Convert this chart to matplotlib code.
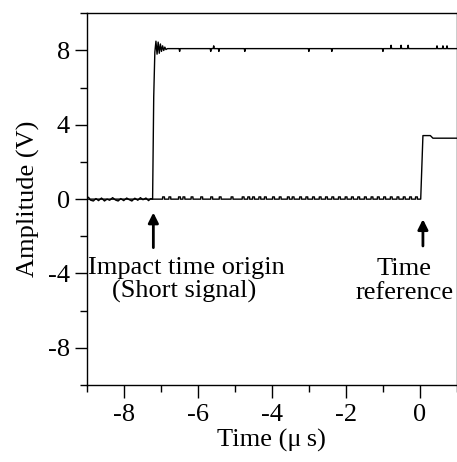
import matplotlib
matplotlib.use('Agg')
import matplotlib.pyplot as plt
from matplotlib.ticker import MultipleLocator

plt.rcParams['font.family'] = ['Liberation Serif', 'DejaVu Serif']
plt.rcParams['axes.unicode_minus'] = False

# short signal (impact time origin): noisy baseline, step at -7.2 us with ringing
short_t = [-9.0, -8.95, -8.9, -8.82, -8.75, -8.68, -8.6, -8.52, -8.45, -8.38, -8.3, -8.22,
           -8.15, -8.08, -8.0, -7.92, -7.85, -7.78, -7.7, -7.62, -7.55, -7.48, -7.4, -7.33,
           -7.27, -7.22, -7.19, -7.16, -7.13, -7.1, -7.07, -7.04, -7.01, -6.98, -6.95, -6.92,
           -6.89, -6.86, -6.82]
short_v = [0.05, 0.1, -0.05, -0.1, 0.03, -0.08, 0.06, -0.1, 0.0, -0.06, 0.08, -0.05,
           -0.1, 0.03, -0.08, 0.06, -0.03, -0.1, 0.05, -0.06, 0.08, -0.03, 0.06, -0.08,
           0.03, 0.0, 5.5, 7.9, 8.5, 7.8, 8.45, 7.85, 8.35, 7.95, 8.25, 8.0, 8.18, 8.05, 8.1]
short_level = 8.1
short_tail_end = 1.0
# small glitches on the 8 V plateau
glitch_t = [-6.49, -5.65, -5.57, -5.43, -4.73, -3.0, -2.38, -1.0, -0.78, -0.51, -0.32,
            0.46, 0.62, 0.73]
glitch_v = [7.95, 7.95, 8.25, 7.95, 7.95, 7.95, 7.95, 7.95, 8.28, 8.28, 8.28,
            8.25, 8.25, 8.25]

# time reference signal: flat baseline with small pulses, step at 0 us
ref_base = 0.0
ref_pulse_t = [-6.95, -6.78, -6.52, -6.4, -6.18, -5.92, -5.65, -5.42, -5.1, -4.8, -4.65,
               -4.52, -4.35, -4.2, -3.98, -3.8, -3.58, -3.45, -3.25, -3.08, -2.9, -2.72,
               -2.55, -2.38, -2.2, -2.02, -1.85, -1.68, -1.5, -1.32, -1.15, -0.98, -0.8,
               -0.62, -0.45, -0.28, -0.12]
ref_pulse_v = 0.12
ref_step_t = [0.02, 0.08, 0.28, 0.35, 1.0]
ref_step_v = [0.0, 3.42, 3.42, 3.28, 3.28]

# assemble line coordinates from the listed values
st = list(short_t)
sv = list(short_v)
for g, gv in zip(glitch_t, glitch_v):
    st += [g - 0.015, g, g + 0.015]
    sv += [short_level, gv, short_level]
st.append(short_tail_end)
sv.append(short_level)

rt = [-9.0]
rv = [ref_base]
for p in ref_pulse_t:
    rt += [p, p, p + 0.05, p + 0.05]
    rv += [ref_base, ref_pulse_v, ref_pulse_v, ref_base]
rt += ref_step_t
rv += ref_step_v

fig = plt.figure(figsize=(4.57, 4.62), dpi=100)
ax = fig.add_axes([0.1897, 0.1667, 0.8103, 0.8045])
ax.plot(st, sv, color='black', lw=1.0)
ax.plot(rt, rv, color='black', lw=1.0)

ax.set_xlim(-9, 1)
ax.set_ylim(-10, 10)
ax.xaxis.set_major_locator(MultipleLocator(2))
ax.xaxis.set_minor_locator(MultipleLocator(1))
ax.yaxis.set_major_locator(MultipleLocator(4))
ax.yaxis.set_minor_locator(MultipleLocator(2))
ax.tick_params(which='major', direction='out', length=9, width=1, labelsize=19, pad=3)
ax.tick_params(which='minor', direction='out', length=5, width=1)
ax.tick_params(axis='x', which='major', pad=5)
for s in ax.spines.values():
    s.set_linewidth(1.0)

ax.set_xlabel('Time (\u03bc\u2009s)', fontsize=19, labelpad=2)
ax.set_ylabel('Amplitude (V)', fontsize=19, labelpad=6)

arrow = dict(arrowstyle='-|>', lw=2.0, color='black', mutation_scale=15, shrinkA=0, shrinkB=0)
ax.annotate('', xy=(-7.2, -0.72), xytext=(-7.2, -2.61), arrowprops=arrow)
ax.annotate('', xy=(0.08, -1.08), xytext=(0.08, -2.52), arrowprops=arrow)

ax.text(-6.30, -4.01, 'Impact time origin', fontsize=19, ha='center', va='baseline')
ax.text(-6.37, -5.30, '(Short signal)', fontsize=19, ha='center', va='baseline')
ax.text(-0.43, -4.08, 'Time', fontsize=19, ha='center', va='baseline')
ax.text(-0.42, -5.37, 'reference', fontsize=19, ha='center', va='baseline')

fig.savefig('out.png', dpi=100)
